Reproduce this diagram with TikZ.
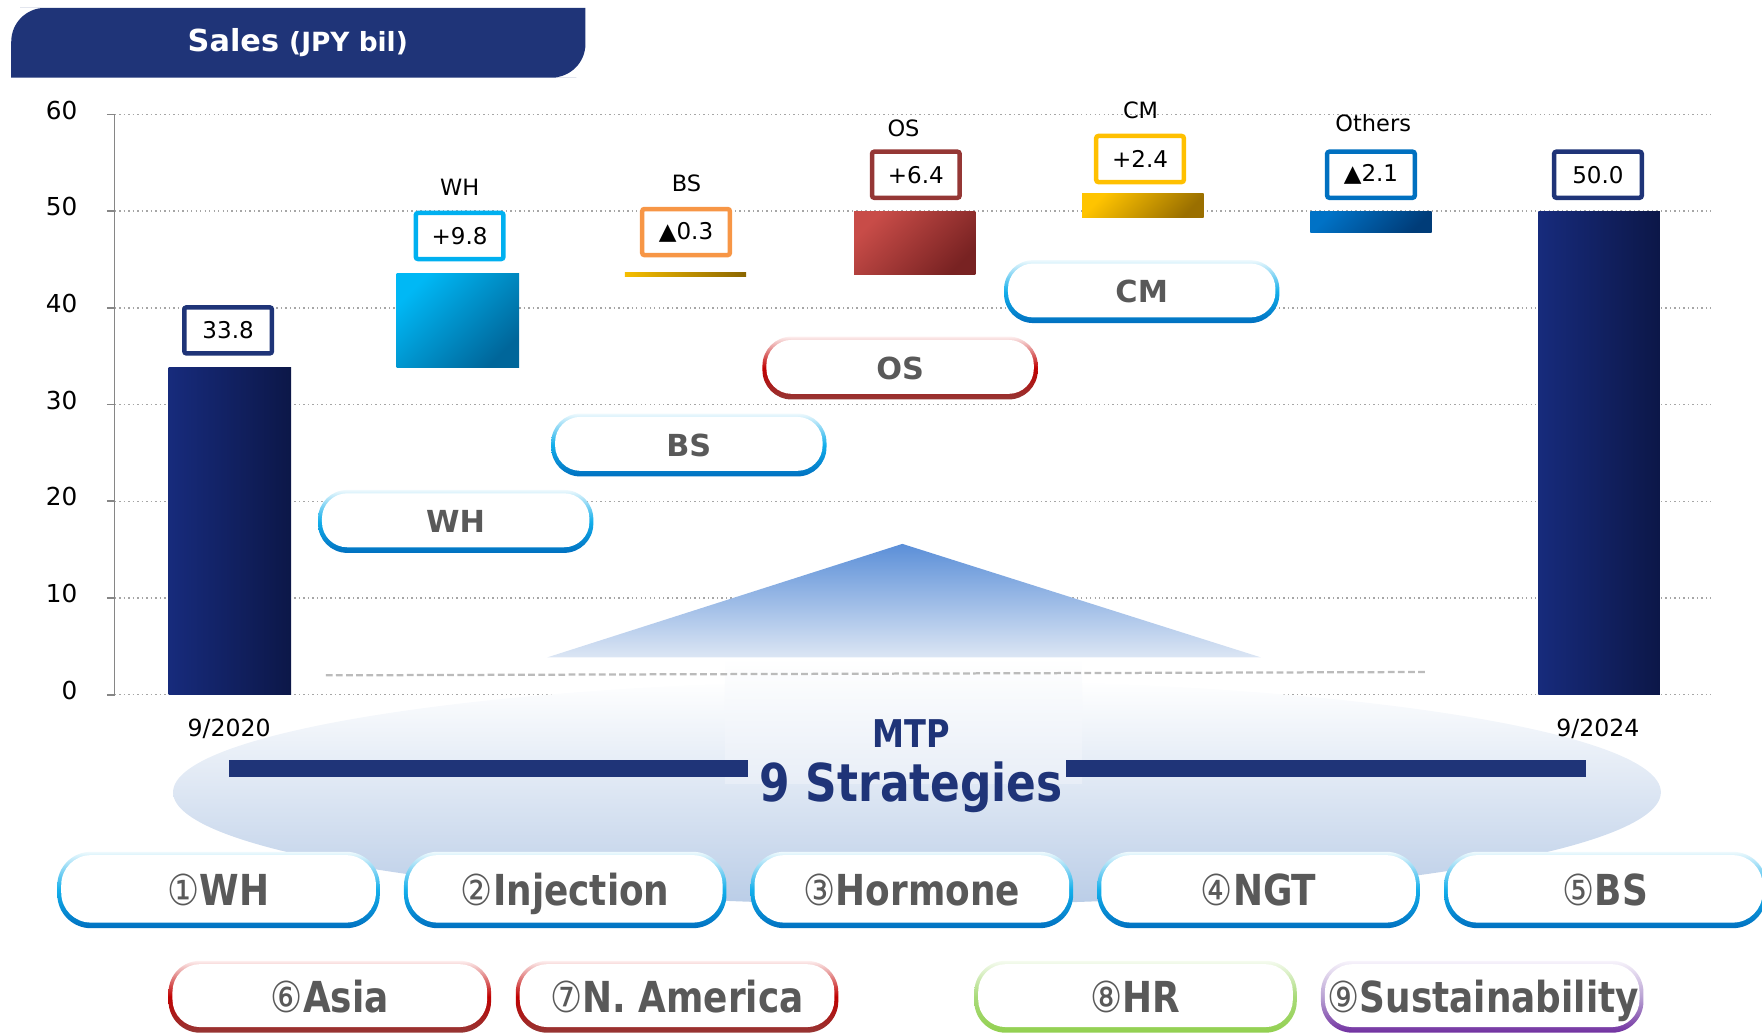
\documentclass[tikz,border=0pt]{standalone}
\usepackage{fontspec}
\setmainfont{DejaVu Sans}
\newfontfamily\condfont[FakeStretch=0.84]{DejaVu Sans}
\usetikzlibrary{calc}

\newcommand\setfs[1]{\fontsize{#1}{#1}\selectfont}

% palette
\definecolor{navy}{HTML}{1F3478}
\definecolor{gridgray}{HTML}{A6A6A6}
\definecolor{axisgray}{HTML}{868686}
\definecolor{pilltext}{HTML}{595959}
\definecolor{dashgray}{HTML}{BBBBBB}
\definecolor{barL}{HTML}{172B7C}
\definecolor{barR}{HTML}{0C1748}
\definecolor{whA}{HTML}{00B8F5}
\definecolor{whB}{HTML}{00669A}
\definecolor{bsA}{HTML}{F6BE00}
\definecolor{bsB}{HTML}{8A6500}
\definecolor{osA}{HTML}{C84C48}
\definecolor{osB}{HTML}{782222}
\definecolor{cmA}{HTML}{FFC400}
\definecolor{cmB}{HTML}{9A6F00}
\definecolor{othA}{HTML}{0072C6}
\definecolor{othB}{HTML}{003C78}
\definecolor{vWH}{HTML}{00B0F0}
\definecolor{vBS}{HTML}{F79646}
\definecolor{vOS}{HTML}{953735}
\definecolor{vCM}{HTML}{FFC000}
\definecolor{vOth}{HTML}{0070C0}
\definecolor{arrowTop}{HTML}{5B8FD8}
\definecolor{arrowBot}{HTML}{DCE6F4}
\definecolor{shaftBot}{HTML}{E8EEF7}
\definecolor{ovalBot}{HTML}{BACDE7}
\definecolor{blueTop}{HTML}{EEF9FD}
\definecolor{blueMid}{HTML}{12AEEB}
\definecolor{blueBot}{HTML}{0070C0}
\definecolor{redTop}{HTML}{FDEEEE}
\definecolor{redMid}{HTML}{C00000}
\definecolor{redBot}{HTML}{953735}
\definecolor{greenTop}{HTML}{F5FBEF}
\definecolor{greenMid}{HTML}{A8DA78}
\definecolor{greenBot}{HTML}{92D050}
\definecolor{purpTop}{HTML}{F7F3FB}
\definecolor{purpMid}{HTML}{B9A2D3}
\definecolor{purpBot}{HTML}{7030A0}

\tikzset{
  gridline/.style={draw=gridgray, line width=1.3pt, dash pattern=on 1.3pt off 2.7pt},
  axisline/.style={draw=axisgray, line width=1.5pt},
  valbox/.style={draw=#1, line width=4pt, fill=white, minimum width=78pt,
    minimum height=41pt, rounded corners=2pt, inner sep=0pt, font=\setfs{20.5}},
  catlabel/.style={inner sep=0pt, font=\setfs{20}},
  datelabel/.style={inner sep=0pt, font=\setfs{21}},
  diagshade/.style 2 args={top color=#1, bottom color=#2, shading angle=45},
  rimblue/.style={top color=blueTop, bottom color=blueBot, middle color=blueMid},
  rimred/.style={top color=redTop, bottom color=redBot, middle color=redMid},
  rimgreen/.style={top color=greenTop, bottom color=greenBot, middle color=greenMid},
  rimpurple/.style={top color=purpTop, bottom color=purpBot, middle color=purpMid},
  pillcore/.style={fill=white, draw=none, inner sep=0pt},
  chartpilltext/.style={text=pilltext, font=\setfs{27}\bfseries, anchor=base, inner sep=0pt},
  stratext/.style={text=pilltext, font=\condfont\setfs{38}\bfseries, anchor=base, inner sep=0pt},
}

% rounded frame with a shaded rim: name, x, y, width, height, radius, rim style
\newcommand\pillframe[7]{%
  \node[#7, inner sep=0pt, minimum width=#4pt, minimum height=#5pt,
        rounded corners=#6pt] (#1) at (#2,#3) {};
  \node[pillcore, minimum width=#4pt-7pt, minimum height=#5pt-8pt,
        rounded corners=#6pt-3.5pt] (#1-in) at (#2,#3-1) {};
}

\begin{document}
\begin{tikzpicture}[x=1pt,y=-1pt]
\useasboundingbox (0,0) rectangle (1568,920);

% title tab
\fill[navy] (10,69) -- (10,45) [rounded corners=30pt] -- (10,7) -- (48,7)
  [sharp corners] -- (521,7) -- (521,32) [rounded corners=30pt] -- (521,69) -- (483,69)
  [sharp corners] -- cycle;
\node[anchor=base, text=white, inner sep=0pt] (title) at (265,46)
  {{\setfs{27}\bfseries Sales}\hspace{9pt}{\setfs{23.5}\bfseries (JPY bil)}};

% value axis and grid
\draw[axisline] (102,101.9) -- (102,618.2);
\foreach \v in {0,...,6} {
  \pgfmathsetmacro\gy{618.2-86.05*\v}
  \draw[gridline] (102,\gy) -- (1523,\gy);
  \draw[axisline] (95,\gy) -- (102,\gy);
  \node[anchor=east, inner sep=0pt, font=\setfs{22}] (ytick\v) at (69,\gy-4)
    {\number\numexpr 10*\v\relax};
}

% base oval and rising arrow
\shade[top color=white, bottom color=ovalBot] (816,705) ellipse [x radius=662pt, y radius=100pt];
\shade[top color=white, bottom color=shaftBot] (645,585) rectangle (963,697);
\shade[top color=arrowTop, bottom color=arrowBot] (803,484) -- (1122,585) -- (487,585) -- cycle;
\draw[dashgray, line width=2pt, dash pattern=on 6pt off 3pt] (290,601) -- (1270,598);

% MTP banner
\fill[navy] (204,676) rectangle (666,691);
\fill[navy] (949,676) rectangle (1411,691);
\node[anchor=base, text=navy, font=\condfont\setfs{34}\bfseries, inner sep=0pt] (mtp) at (811,665) {MTP};
\node[anchor=base, text=navy, font=\condfont\setfs{46.5}\bfseries, inner sep=0pt] (nine) at (811,713) {9 Strategies};

% waterfall bars
\shade[left color=barL, right color=barR] (150,327.3) rectangle (259,618.2);
\shade[diagshade={whA}{whB}] (353,243) rectangle (462,327.3);
\shade[left color=bsA, right color=bsB] (556,242.5) rectangle (664,246);
\shade[diagshade={osA}{osB}] (760,188.5) rectangle (868,244.5);
\shade[diagshade={cmA}{cmB}] (963,172.5) rectangle (1071,193.5);
\shade[diagshade={othA}{othB}] (1166,188.4) rectangle (1274,207);
\shade[left color=barL, right color=barR] (1369,188) rectangle (1477,618.2);

% value boxes
\node[valbox=navy] (v2020) at (203,294) {33.8};
\node[valbox=vWH] (vWH) at (409,210) {+9.8};
\node[valbox=vBS] (vBS) at (610.5,206.5) {▲0.3};
\node[valbox=vOS] (vOS) at (815,155.5) {+6.4};
\node[valbox=vCM] (vCM) at (1014.5,141.5) {+2.4};
\node[valbox=vOth] (vOth) at (1220,155.5) {▲2.1};
\node[valbox=navy] (v2024) at (1422,155.5) {50.0};

% category labels
\node[catlabel] (cWH) at (409,167) {WH};
\node[catlabel] (cBS) at (611,163) {BS};
\node[catlabel] (cOS) at (804,114) {OS};
\node[catlabel] (cCM) at (1015,98) {CM};
\node[catlabel] (cOth) at (1222,110) {Others};
\node[datelabel] (d2020) at (204,649) {9/2020};
\node[datelabel] (d2024) at (1422,649) {9/2024};

% business pills inside the chart
\pillframe{pWH}{405.5}{464}{245}{56}{26}{rimblue}
\node[chartpilltext] (tWH) at (405.5,474) {WH};
\pillframe{pBS}{613}{396}{245}{56}{26}{rimblue}
\node[chartpilltext] (tBS) at (613,406) {BS};
\pillframe{pOS}{801}{327.5}{245}{56}{26}{rimred}
\node[chartpilltext] (tOS) at (801,337.5) {OS};
\pillframe{pCM}{1016}{259.5}{245}{56}{26}{rimblue}
\node[chartpilltext] (tCM) at (1016,269.5) {CM};

% the nine strategies
\pillframe{s1}{194.5}{792}{287}{68}{30}{rimblue}
\node[stratext] (s1t) at (194.5,805.5) {{\mdseries ①}WH};
\pillframe{s2}{503}{792}{287}{68}{30}{rimblue}
\node[stratext] (s2t) at (503,805.5) {{\mdseries ②}Injection};
\pillframe{s3}{811.5}{792}{287}{68}{30}{rimblue}
\node[stratext] (s3t) at (811.5,805.5) {{\mdseries ③}Hormone};
\pillframe{s4}{1120}{792}{287}{68}{30}{rimblue}
\node[stratext] (s4t) at (1120,805.5) {{\mdseries ④}NGT};
\pillframe{s5}{1428.5}{792}{287}{68}{30}{rimblue}
\node[stratext] (s5t) at (1428.5,805.5) {{\mdseries ⑤}BS};

\pillframe{s6}{293.5}{887}{287}{64}{28}{rimred}
\node[stratext] (s6t) at (293.5,901) {{\mdseries ⑥}Asia};
\pillframe{s7}{602.5}{887}{287}{64}{28}{rimred}
\node[stratext] (s7t) at (602.5,901) {{\mdseries ⑦}N. America};
\pillframe{s8}{1010.5}{887}{287}{64}{28}{rimgreen}
\node[stratext] (s8t) at (1010.5,901) {{\mdseries ⑧}HR};
\pillframe{s9}{1319}{887}{287}{64}{28}{rimpurple}
\node[stratext] (s9t) at (1320,901) {{\mdseries ⑨}Sustainability};
\end{tikzpicture}
\end{document}
